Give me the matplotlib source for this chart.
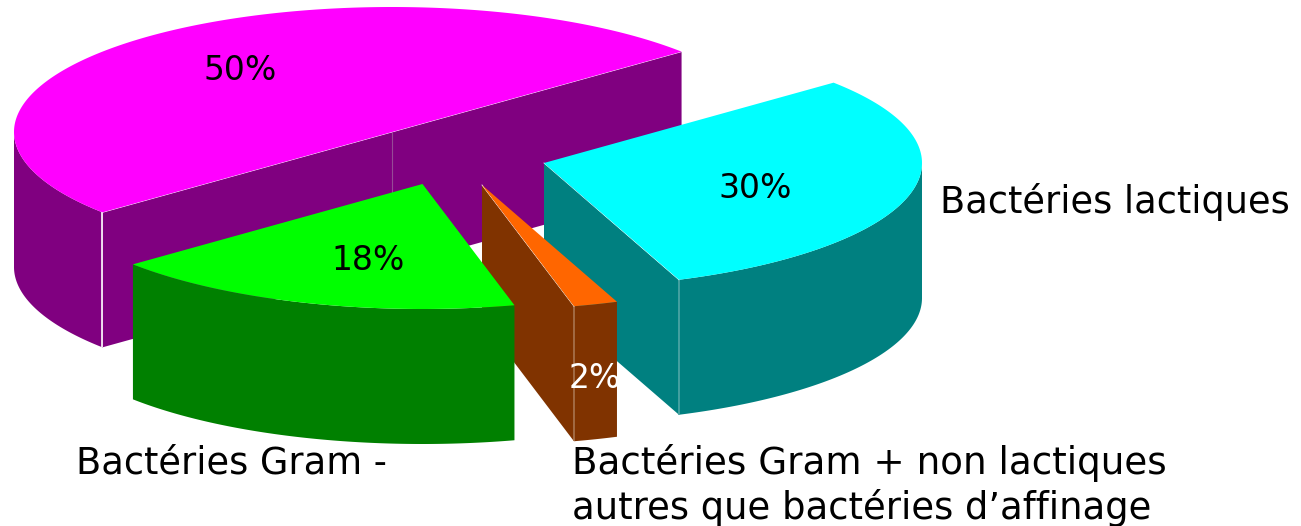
import numpy as np
import matplotlib
matplotlib.use("Agg")
import matplotlib.pyplot as plt
from matplotlib.patches import Polygon

# Data (clockwise from the start angle)
categories = ["Bactéries lactiques", "Gram + non lactiques", "Bactéries Gram -", "Autres"]
shares = [30.3, 1.9, 17.8, 50.0]
share_labels = ["30%", "2%", "18%", "50%"]

# Styling
top_colors = ["#00FFFF", "#FF6600", "#00FF00", "#FF00FF"]
side_colors = ["#008080", "#803300", "#008000", "#800080"]
seam_colors = ["#4fa6a6", "#a8744f", "#008000", "#ffffff"]
centers = [(544, 163), (482, 185), (422.5, 184), (392, 132)]
draw_order = [3, 0, 1, 2]
label_pos = [(755, 189), (595, 378), (368, 260), (240, 70)]
label_colors = ["black", "white", "black", "black"]
START, A, B, DEPTH = 40.0, 378.0, 125.0, 135.0

W, H = 1301, 526
fig = plt.figure(figsize=(W / 100, H / 100), dpi=100)
ax = fig.add_axes([0, 0, 1, 1])
ax.set_xlim(0, W)
ax.set_ylim(H, 0)
ax.axis("off")

angles = START - np.cumsum([0] + shares) * 3.6


def pt(c, deg):
    t = np.radians(deg)
    return np.array([c[0] + A * np.cos(t), c[1] - B * np.sin(t)])


def arc(c, a1, a2):
    ts = np.linspace(a1, a2, max(2, int(abs(a1 - a2) * 2) + 2))
    return np.array([pt(c, t) for t in ts])


def extrude(p, q):
    return np.vstack([p, (q + [0, DEPTH])[::-1]])


for z, i in enumerate(draw_order):
    c, a1, a2 = centers[i], angles[i], angles[i + 1]
    center = np.array(c, float)
    # outer wall: only the front half of the ellipse shows
    for k in range(-1, 1):
        lo, hi = max(a2, -180 + 360 * k), min(a1, 360 * k)
        if hi > lo:
            p = arc(c, hi, lo)
            ax.add_patch(Polygon(extrude(p, p), closed=True, fc=side_colors[i], ec="none", zorder=z))
    # cut faces that look toward the viewer
    visible = 0
    for ang, normal in ((a1, a1 + 90), (a2, a2 - 90)):
        if np.sin(np.radians(normal)) < 0:
            visible += 1
            p = np.array([center, pt(c, ang)])
            ax.add_patch(Polygon(extrude(p, p), closed=True, fc=side_colors[i], ec="none", zorder=z))
            # seam where the cut face meets the outer wall
            if np.sin(np.radians(ang)) < 0:
                s = p[1]
                ax.plot([s[0], s[0]], [s[1], s[1] + DEPTH], color=seam_colors[i],
                        lw=1.2, zorder=z + 0.1, solid_capstyle="butt")
            ax.plot(p[:, 0], p[:, 1], color="white", lw=0.6, zorder=z + 0.1)
    if visible == 2:
        ax.plot([c[0], c[0]], [c[1], c[1] + DEPTH], color="#964a96", lw=0.8,
                zorder=z + 0.1, solid_capstyle="butt")
    # top face
    top = np.vstack([center, arc(c, a1, a2)])
    ax.add_patch(Polygon(top, closed=True, fc=top_colors[i], ec="none", zorder=z + 0.2))

for txt, (x, y), col in zip(share_labels, label_pos, label_colors):
    ax.text(x, y, txt, color=col, fontsize=23.8, ha="center", va="center", zorder=10,
            family="DejaVu Sans")

ax.text(940, 213, categories[0], fontsize=26.5, ha="left", va="baseline", zorder=10)
ax.text(76, 474, categories[2], fontsize=26.5, ha="left", va="baseline", zorder=10)
ax.text(572, 474, "Bactéries Gram + non lactiques", fontsize=26.8, ha="left", va="baseline", zorder=10)
ax.text(572, 519, "autres que bactéries d’affinage", fontsize=26.6, ha="left", va="baseline", zorder=10)

fig.savefig("out.png", dpi=100)
